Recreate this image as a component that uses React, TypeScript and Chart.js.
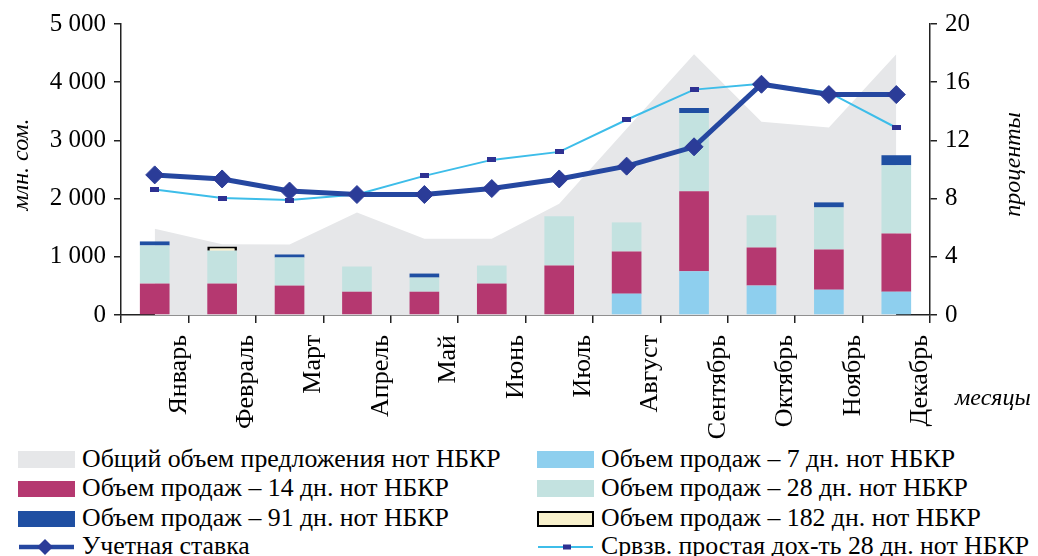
import React, { useEffect, useRef } from 'react';
import { Chart, registerables } from 'chart.js';

Chart.register(...registerables);

const months = ['Январь', 'Февраль', 'Март', 'Апрель', 'Май', 'Июнь', 'Июль', 'Август', 'Сентябрь', 'Октябрь', 'Ноябрь', 'Декабрь'];

const totalOffer = [1480, 1215, 1210, 1760, 1310, 1310, 1910, 3200, 4480, 3320, 3220, 4480];
const sales7 = [null, null, null, null, null, null, null, 367, 750, 505, 435, 400];
const sales14 = [540, 540, 505, 400, 400, 540, 850, 724, 1376, 655, 690, 1000];
const sales28 = [655, 563, 483, 433, 243, 310, 845, 500, 1345, 552, 724, 1172];
const sales91 = [69, null, 52, null, 69, null, null, null, 86, null, 86, 173];
const sales182 = [null, 75, null, null, null, null, null, null, null, null, null, null];
const discountRate = [9.63, 9.35, 8.52, 8.28, 8.28, 8.69, 9.35, 10.23, 11.56, 15.86, 15.15, 15.15];
const yield28 = [8.62, 8.04, 7.9, 8.28, 9.56, 10.66, 11.21, 13.42, 15.49, 15.9, 15.3, 12.87];

const leftTicks = ['0', '1 000', '2 000', '3 000', '4 000', '5 000'];
const rightTicks = ['0', '4', '8', '12', '16', '20'];

const leftTitle = 'млн. сом.';
const rightTitle = 'проценты';
const xTitle = 'месяцы';

const FONT = '"Liberation Serif", "Times New Roman", serif';

const C = {
  offer: '#e6e7e9',
  s7: '#8ecfee',
  s14: '#b53870',
  s28: '#c3e2e0',
  s91: '#1f4fa2',
  s182: '#f8f1cc',
  rate: '#2547a0',
  rateMarker: '#2b3c98',
  yield: '#3dbde9',
  yieldMarker: '#2e3192',
  axis: '#222222',
};

const axisTitles = {
  id: 'axisTitles',
  afterDraw(chart: any) {
    const { ctx, chartArea, scales } = chart;
    const midY = (chartArea.top + chartArea.bottom) / 2 - 5;
    ctx.save();
    ctx.font = `italic 24px ${FONT}`;
    ctx.fillStyle = '#000';
    ctx.textBaseline = 'alphabetic';
    ctx.textAlign = 'left';
    ctx.fillText(xTitle, chartArea.right + 25, scales.x.top + 90);

    ctx.textAlign = 'center';
    ctx.save();
    ctx.translate(scales.y.left + 28, midY);
    ctx.rotate(-Math.PI / 2);
    ctx.fillText(leftTitle, 0, 0);
    ctx.restore();

    ctx.save();
    ctx.translate(chartArea.right + 90, midY);
    ctx.rotate(-Math.PI / 2);
    ctx.fillText(rightTitle, 0, 0);
    ctx.restore();

    ctx.restore();
  },
};

function ChartCanvas() {
  const ref = useRef<HTMLCanvasElement>(null);
  useEffect(() => {
    const mk = document.createElement('canvas');
    mk.width = 9;
    mk.height = 5;
    const mctx = mk.getContext('2d')!;
    mctx.fillStyle = C.yieldMarker;
    mctx.fillRect(0, 0, 9, 5);

    const bar = (label: string, data: any[], color: string, extra: any = {}) => ({
      type: 'bar',
      label,
      data,
      backgroundColor: color,
      yAxisID: 'y',
      stack: 'sales',
      order: 2,
      barPercentage: 0.44,
      categoryPercentage: 1,
      borderWidth: 0,
      ...extra,
    });

    const chart = new Chart(ref.current!, {
      type: 'bar',
      data: {
        labels: months,
        datasets: [
          {
            type: 'line',
            label: 'Учетная ставка',
            data: discountRate,
            yAxisID: 'y1',
            borderColor: C.rate,
            borderWidth: 5,
            pointStyle: 'rectRot',
            pointRadius: 9,
            pointBackgroundColor: C.rateMarker,
            pointBorderColor: C.rateMarker,
            pointBorderWidth: 1,
            tension: 0,
            order: 0,
          },
          {
            type: 'line',
            label: 'Срвзв. простая дох-ть 28 дн. нот НБКР',
            data: yield28,
            yAxisID: 'y1',
            borderColor: C.yield,
            borderWidth: 2,
            pointStyle: mk,
            tension: 0,
            order: 1,
          },
          bar('Объем продаж – 7 дн. нот НБКР', sales7, C.s7),
          bar('Объем продаж – 14 дн. нот НБКР', sales14, C.s14),
          bar('Объем продаж – 28 дн. нот НБКР', sales28, C.s28),
          bar('Объем продаж – 91 дн. нот НБКР', sales91, C.s91),
          bar('Объем продаж – 182 дн. нот НБКР', sales182, C.s182, { borderWidth: 2.5, borderColor: '#000' }),
          {
            type: 'line',
            label: 'Общий объем предложения нот НБКР',
            data: totalOffer,
            yAxisID: 'y',
            stack: 'offer',
            fill: 'origin',
            backgroundColor: C.offer,
            borderWidth: 0,
            borderColor: C.offer,
            pointRadius: 0,
            tension: 0,
            order: 3,
          },
        ] as any,
      },
      options: {
        responsive: false,
        animation: false,
        layout: { padding: { top: 24, left: 0, right: 0, bottom: 0 } },
        plugins: {
          legend: { display: false },
          tooltip: { enabled: false },
        },
        scales: {
          x: {
            stacked: true,
            offset: true,
            grid: {
              offset: true,
              drawOnChartArea: false,
              drawTicks: true,
              tickLength: 8,
              color: C.axis,
              lineWidth: 1.5,
            },
            border: { display: true, color: C.axis, width: 1.5 },
            ticks: {
              minRotation: 90,
              maxRotation: 90,
              autoSkip: false,
              labelOffset: 24,
              padding: 12,
              color: '#000',
              font: { family: FONT, size: 26 },
            },
            afterFit: (s: any) => {
              s.height = 125;
            },
          },
          y: {
            position: 'left',
            stacked: true,
            min: 0,
            max: 5000,
            ticks: {
              stepSize: 1000,
              color: '#000',
              padding: 8,
              font: { family: FONT, size: 25 },
              callback: (_v: any, i: number) => leftTicks[i],
            },
            grid: { drawOnChartArea: false, tickLength: 7, color: C.axis, lineWidth: 1.5 },
            border: { display: true, color: C.axis, width: 1.5 },
            afterFit: (s: any) => {
              s.width = 121;
            },
          },
          y1: {
            position: 'right',
            stacked: false,
            min: 0,
            max: 20,
            ticks: {
              stepSize: 4,
              color: '#000',
              padding: 8,
              font: { family: FONT, size: 25 },
              callback: (_v: any, i: number) => rightTicks[i],
            },
            grid: { drawOnChartArea: false, tickLength: 7, color: C.axis, lineWidth: 1.5 },
            border: { display: true, color: C.axis, width: 1.5 },
            afterFit: (s: any) => {
              s.width = 108;
            },
          },
        },
      } as any,
      plugins: [axisTitles],
    });
    return () => chart.destroy();
  }, []);
  return <canvas ref={ref} width={1038} height={440} style={{ display: 'block', width: 1038, height: 440 }} />;
}

type LegendItem = {
  label: string;
  kind: 'box' | 'rate' | 'yield';
  color?: string;
  h?: number;
  border?: boolean;
};

const legendLeft: LegendItem[] = [
  { label: 'Общий объем предложения нот НБКР', kind: 'box', color: C.offer, h: 17 },
  { label: 'Объем продаж – 14 дн. нот НБКР', kind: 'box', color: C.s14, h: 16 },
  { label: 'Объем продаж – 91 дн. нот НБКР', kind: 'box', color: C.s91, h: 16 },
  { label: 'Учетная ставка', kind: 'rate' },
];
const legendRight: LegendItem[] = [
  { label: 'Объем продаж – 7 дн. нот НБКР', kind: 'box', color: C.s7, h: 17 },
  { label: 'Объем продаж – 28 дн. нот НБКР', kind: 'box', color: C.s28, h: 17 },
  { label: 'Объем продаж – 182 дн. нот НБКР', kind: 'box', color: C.s182, h: 16, border: true },
  { label: 'Срвзв. простая дох-ть 28 дн. нот НБКР', kind: 'yield' },
];
const rowTops = [444, 473, 503, 531];

function Swatch({ item }: { item: LegendItem }) {
  if (item.kind === 'rate') {
    return (
      <svg width={57} height={20} style={{ display: 'block' }}>
        <line x1={1} y1={10} x2={56} y2={10} stroke={C.rate} strokeWidth={4.5} />
        <polygon points="27,2 35,10 27,18 19,10" fill={C.rateMarker} />
      </svg>
    );
  }
  if (item.kind === 'yield') {
    return (
      <svg width={57} height={20} style={{ display: 'block' }}>
        <line x1={1} y1={10} x2={56} y2={10} stroke={C.yield} strokeWidth={2} />
        <rect x={26} y={7.5} width={8} height={5} fill={C.yieldMarker} />
      </svg>
    );
  }
  return (
    <div
      style={{
        width: 57,
        height: item.h,
        boxSizing: 'border-box',
        background: item.color,
        border: item.border ? '2.5px solid #000' : 'none',
      }}
    />
  );
}

function LegendColumn({ items, left }: { items: LegendItem[]; left: number }) {
  return (
    <>
      {items.map((it, i) => (
        <div
          key={it.label}
          style={{
            position: 'absolute',
            left,
            top: rowTops[i],
            height: 29,
            display: 'flex',
            alignItems: 'center',
            whiteSpace: 'nowrap',
          }}
        >
          <div style={{ width: 57, display: 'flex', alignItems: 'center', justifyContent: 'center', marginTop: 2 }}>
            <Swatch item={it} />
          </div>
          <span style={{ marginLeft: 7, fontFamily: FONT, fontSize: 25.8, lineHeight: '29px', color: '#000' }}>{it.label}</span>
        </div>
      ))}
    </>
  );
}

export default function App() {
  return (
    <div style={{ position: 'fixed', left: 0, top: 0, width: 1038, height: 556, background: '#fff', overflow: 'hidden' }}>
      <ChartCanvas />
      <LegendColumn items={legendLeft} left={18} />
      <LegendColumn items={legendRight} left={537} />
    </div>
  );
}
